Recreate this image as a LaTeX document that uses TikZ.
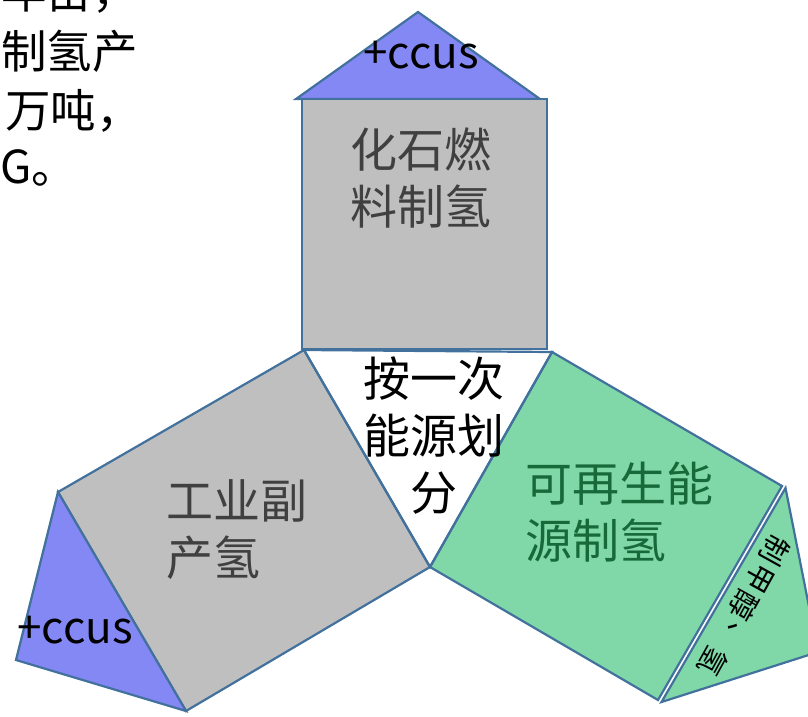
\documentclass[tikz,border=0pt]{standalone}
\usepackage{fontspec}
\setmainfont{Noto Sans CJK SC}
\definecolor{edgeblue}{HTML}{41719C}
\definecolor{grayfill}{HTML}{BFBFBF}
\definecolor{bluefill}{HTML}{8488F4}
\definecolor{greenfill}{HTML}{80D8A8}
\definecolor{graytext}{HTML}{404040}
\definecolor{greentext}{HTML}{17693A}
\begin{document}
\begin{tikzpicture}[x=1pt,y=-1pt,
  shapeline/.style={draw=edgeblue, line width=2.2pt, line join=miter},
  bigtext/.style={inner sep=0pt, font=\fontsize{47}{57}\selectfont},
  sidetext/.style={inner sep=0pt, font=\fontsize{45.5}{60}\selectfont},
  ccustext/.style={inner sep=0pt, font=\fontsize{44}{50}\selectfont},
  rottext/.style={inner sep=0pt, font=\fontsize{29}{34}\selectfont, rotate=-119}]
\useasboundingbox (0,0) rectangle (808,716);
\clip (0,0) rectangle (808,716);
% named corners
\coordinate (tl) at (304,350);
\coordinate (tr) at (552,352);
\coordinate (bc) at (430,567);
\coordinate (lsq1) at (58,492);
\coordinate (lsq2) at (186,711);
\coordinate (rsq1) at (782,486);
\coordinate (rsq2) at (658,700);
% top triangle and square
\filldraw[shapeline, fill=bluefill] (296,99) -- (418,12) -- (540,99) -- cycle;
\filldraw[shapeline, fill=grayfill] (302,99) rectangle (547,349);
% left gray
\filldraw[shapeline, fill=grayfill] (tl) -- (bc) -- (lsq2) -- (lsq1) -- cycle;
\filldraw[shapeline, fill=bluefill] (lsq1) -- (lsq2) -- (16,660) -- cycle;
% right green
\filldraw[shapeline, fill=greenfill] (tr) -- (bc) -- (rsq2) -- (rsq1) -- cycle;
\filldraw[shapeline, fill=greenfill] (785.5,488) -- (661.5,702) -- (818,652) -- cycle;
% centre triangle outline
\draw[shapeline] (tl) -- (tr) -- (bc) -- cycle;
% texts
\node[bigtext, align=center, text=graytext] (fossil) at (421,178) {化石燃\\料制氢};
\node[bigtext, align=left, anchor=west, text=graytext] (industry) at (166,530) {工业副\\产氢};
\node[bigtext, align=left, anchor=west, text=greentext] (renew) at (525,512) {可再生能\\源制氢};
\node[bigtext, align=center] (centre) at (434,436) {按一次\\能源划\\分};
\node[ccustext, anchor=base] (ccustop) at (421,68) {+ccus};
\node[ccustext, anchor=base] (ccusleft) at (75,643) {+ccus};
\node[rottext] (m1) at (775,550) {制};
\node[rottext] (m2) at (759.5,578) {甲};
\node[rottext] (m3) at (744,606) {醇};
\node[rottext] (m4) at (728.5,634) {、};
\node[rottext] (m5) at (713,662) {氢};
\node[sidetext, anchor=west] (l1) at (1,-8) {年亩，};
\node[sidetext, anchor=west] (l2) at (1,51) {制氢产};
\node[sidetext, anchor=west] (l3) at (5,111) {万吨，};
\node[sidetext, anchor=west] (l4) at (0,168) {G。};
\end{tikzpicture}
\end{document}
